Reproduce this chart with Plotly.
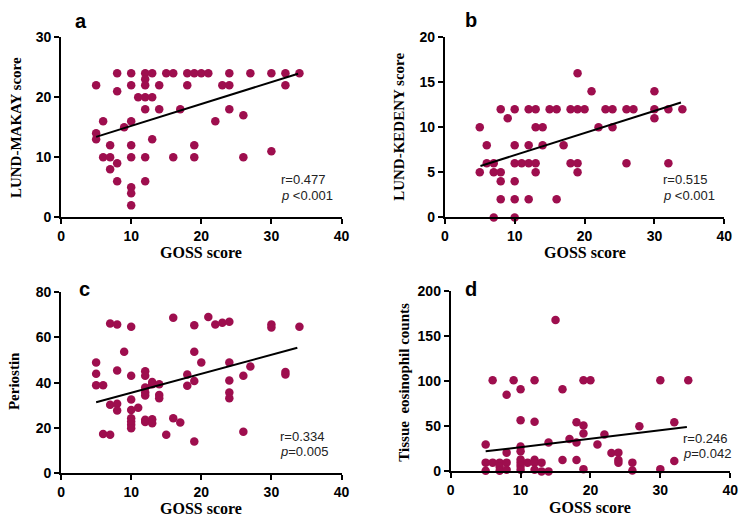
import plotly.graph_objects as go

# ---------------- data ----------------
goss_a = [5, 5, 5, 6, 6, 7, 7, 7, 8, 8, 8, 8, 9, 10, 10, 10, 10, 10, 10, 10, 10,
          11, 12, 12, 12, 12, 12, 12, 12, 13, 13, 13, 14, 14, 15, 16, 16, 17, 18, 18,
          19, 19, 19, 20, 21, 22, 23, 24, 24, 24, 26, 26, 27, 30, 30, 32, 32, 34]
lund_makay = [22, 14, 13, 16, 10, 12, 10, 8, 24, 21, 9, 6, 15, 24, 22, 16, 12, 10, 5, 4, 2,
              20, 24, 23, 22, 20, 18, 10, 6, 24, 20, 13, 22, 18, 24, 24, 10, 18, 24, 22,
              24, 12, 10, 24, 24, 16, 22, 24, 22, 18, 17, 10, 24, 24, 11, 24, 22, 24]
fit_a_x = [5, 33.8]
fit_a_y = [13.4, 23.9]

goss_b = [5, 5, 6, 6, 7, 7, 7, 8, 8, 8, 8, 9, 10, 10, 10, 10, 10, 10, 11,
          12, 12, 12, 12, 13, 13, 13, 13, 14, 14, 15, 16, 16, 17, 18, 18,
          19, 19, 19, 19, 20, 21, 22, 23, 24, 24, 26, 26, 27, 30, 30, 30, 32, 32, 34]
lund_kedeny = [10, 5, 8, 6, 6, 5, 0, 12, 5, 4, 2, 11, 12, 8, 6, 4, 2, 0, 6,
               12, 8, 6, 2, 12, 10, 6, 5, 10, 8, 12, 12, 2, 8, 12, 6,
               16, 12, 6, 5, 12, 14, 10, 12, 12, 10, 12, 6, 12, 14, 12, 11, 12, 6, 12]
fit_b_x = [5.1, 33.8]
fit_b_y = [5.7, 12.75]

goss_c = [5, 5, 5, 6, 6, 7, 7, 7, 8, 8, 8, 8, 9, 10, 10, 10, 10, 10, 10, 10, 10,
          11, 12, 12, 12, 12, 12, 12, 12, 13, 13, 13, 13, 14, 14, 14, 15, 16, 16, 17,
          18, 18, 19, 19, 19, 19, 20, 21, 22, 23, 24, 24, 24, 24, 24, 26, 26, 27,
          30, 30, 32, 32, 34]
periostin = [48.9, 43.9, 38.9, 38.9, 17.4, 66.1, 30.3, 17.0, 65.7, 45.4, 30.7, 27.7, 53.6,
             64.7, 43.1, 32.6, 27.9, 24.3, 22.9, 21.4, 19.9,
             28.9, 45.0, 43.1, 37.9, 35.7, 34.3, 23.6, 22.6, 40.3, 39.3, 23.9, 22.1,
             39.3, 34.6, 33.1, 17.0, 68.6, 24.3, 22.4,
             43.6, 38.6, 65.3, 53.6, 40.7, 14.0, 48.9, 69.0, 65.7, 66.4, 66.9, 48.9, 41.0,
             35.7, 33.1, 43.1, 18.3, 47.1, 65.7, 64.3, 44.7, 43.6, 64.7]
fit_c_x = [5, 33.7]
fit_c_y = [31.4, 55.4]

goss_d = [5, 5, 5, 6, 6, 7, 7, 7, 8, 8, 8, 8, 9, 10, 10, 10, 10, 10, 10, 10, 10,
          11, 12, 12, 12, 12, 12, 13, 13, 14, 14, 15, 16, 16, 17, 18, 18, 18,
          19, 19, 19, 19, 20, 21, 22, 23, 24, 24, 24, 26, 26, 27, 30, 30, 32, 32, 34]
eosinophil = [29.7, 9.7, 0.7, 101, 9.7, 9.7, 5, 0.7, 85, 20.8, 9.7, 1.8, 101,
              91, 56.6, 27.6, 22.2, 13.3, 9.7, 6, 1.8,
              9.7, 101, 55, 13, 9.7, 1.8, 9.7, 0, 32, 0, 168, 91, 12.5, 35.8, 54.5, 32, 12.5,
              101, 51, 42, 2.5, 101, 29.7, 41, 20.4, 20.8, 12.5, 9.7, 9.7, 1, 50, 101, 2.5,
              54.5, 11.5, 101]
fit_d_x = [5, 33.8]
fit_d_y = [22.2, 49.1]

x_ticks = [0, 10, 20, 30, 40]
panels = [
    dict(x=goss_a, y=lund_makay, fx=fit_a_x, fy=fit_a_y, yr=[0, 30], yt=[0, 10, 20, 30],
         letter="a", ytitle="LUND-MAKAY score", r="r=0.477", p="<i>p</i> <0.001"),
    dict(x=goss_b, y=lund_kedeny, fx=fit_b_x, fy=fit_b_y, yr=[0, 20], yt=[0, 5, 10, 15, 20],
         letter="b", ytitle="LUND-KEDENY score", r="r=0.515", p="<i>p</i> <0.001"),
    dict(x=goss_c, y=periostin, fx=fit_c_x, fy=fit_c_y, yr=[0, 80], yt=[0, 20, 40, 60, 80],
         letter="c", ytitle="Periostin", r="r=0.334", p="<i>p</i>=0.005"),
    dict(x=goss_d, y=eosinophil, fx=fit_d_x, fy=fit_d_y, yr=[0, 200], yt=[0, 50, 100, 150, 200],
         letter="d", ytitle="Tissue  eosinophil counts", r="r=0.246", p="<i>p</i>=0.042"),
]

# ---------------- layout geometry (pixels) ----------------
W, H = 750, 523
boxes = [(58, 343, 30, 216), (448, 732, 30, 216), (58, 343, 293, 480), (454, 738, 292, 478)]
letter_pos = [(78, 13), (475, 12), (82, 290), (475, 290)]
xtitle_pos = [(200, 252), (590, 252), (200, 516), (596, 515)]
ytitle_pos = [(12, 123), (402, 123), (10, 385), (407, 386)]
stat_pos = [(279, 177), (668, 177), (278, 442), (688, 444)]

COLOR = "#9E0E4E"
fig = go.Figure()
annotations = []
layout = {}
for i, (pn, box) in enumerate(zip(panels, boxes)):
    n = "" if i == 0 else str(i + 1)
    xa, ya = "x" + n, "y" + n
    fig.add_trace(go.Scatter(x=pn["x"], y=pn["y"], mode="markers", xaxis=xa, yaxis=ya,
                             marker=dict(color=COLOR, size=8.5, line=dict(width=0)),
                             cliponaxis=False, showlegend=False))
    fig.add_trace(go.Scatter(x=pn["fx"], y=pn["fy"], mode="lines", xaxis=xa, yaxis=ya,
                             line=dict(color="black", width=2), showlegend=False))
    x0, x1, y0, y1 = box
    common = dict(showline=True, linecolor="black", linewidth=2, ticks="outside",
                  ticklen=5, tickwidth=2, tickcolor="black", showgrid=False, zeroline=False,
                  tickfont=dict(family="Arial", size=14, color="black", weight="bold"))
    layout["xaxis" + n] = dict(domain=[x0 / W, x1 / W], range=[0, 40], tickvals=x_ticks,
                               anchor=ya, **common)
    layout["yaxis" + n] = dict(domain=[1 - y1 / H, 1 - y0 / H], range=pn["yr"], tickvals=pn["yt"],
                               anchor=xa, **common)
    lx, ly = letter_pos[i]
    annotations.append(dict(text=pn["letter"], x=lx / W, y=1 - ly / H, xref="paper", yref="paper",
                            showarrow=False, xanchor="center", yanchor="middle",
                            font=dict(family="Arial", size=20, color="black", weight="bold")))
    tx, ty = xtitle_pos[i]
    annotations.append(dict(text="GOSS score", x=tx / W, y=1 - ty / H, xref="paper", yref="paper",
                            showarrow=False, xanchor="center", yanchor="middle",
                            font=dict(family="Times New Roman", size=16, color="black", weight="bold")))
    vx, vy = ytitle_pos[i]
    annotations.append(dict(text=pn["ytitle"], x=vx / W, y=1 - vy / H, xref="paper", yref="paper",
                            showarrow=False, xanchor="center", yanchor="middle", textangle=-90,
                            font=dict(family="Times New Roman", size=15, color="black", weight="bold")))
    sx, sy = stat_pos[i]
    annotations.append(dict(text=pn["r"], x=sx / W, y=1 - sy / H, xref="paper", yref="paper",
                            showarrow=False, xanchor="left", yanchor="middle",
                            font=dict(family="Arial", size=13, color="#222")))
    annotations.append(dict(text=pn["p"], x=sx / W, y=1 - (sy + 16) / H, xref="paper", yref="paper",
                            showarrow=False, xanchor="left", yanchor="middle",
                            font=dict(family="Arial", size=13, color="#222")))

fig.update_layout(width=W, height=H, margin=dict(l=0, r=0, t=0, b=0),
                  paper_bgcolor="white", plot_bgcolor="white", annotations=annotations, **layout)
fig.write_html("out.html", config={"displayModeBar": False},
               post_script="document.body.style.margin='0';document.body.style.overflow='hidden';")
